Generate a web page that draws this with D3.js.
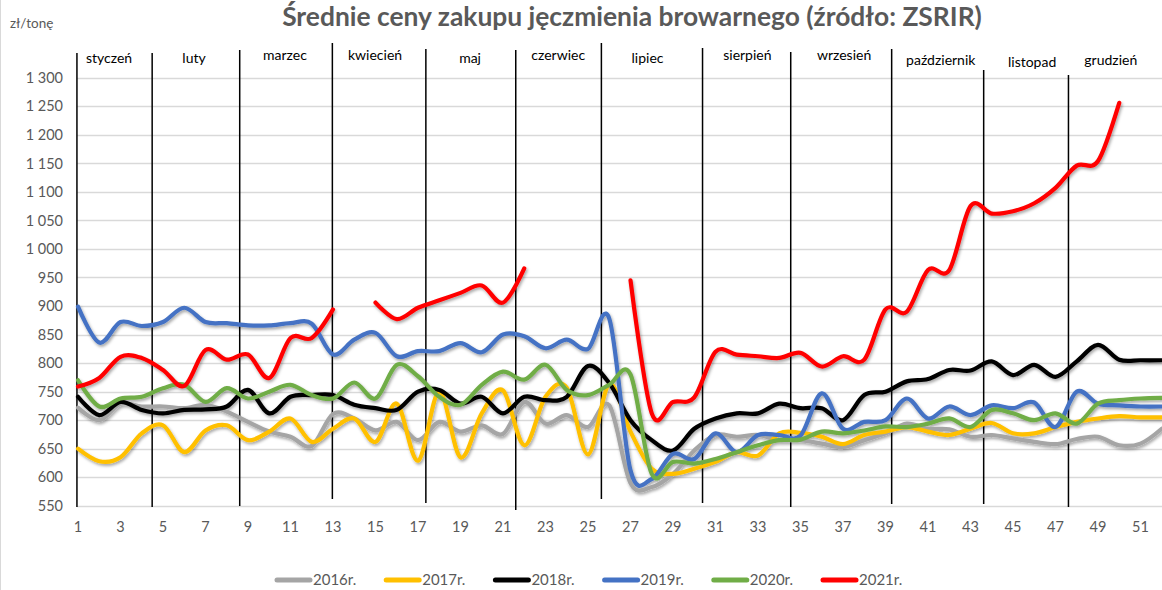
<!DOCTYPE html>
<html>
<head>
<meta charset="utf-8">
<script src="https://cdn.jsdelivr.net/npm/d3@7"></script>
<style>
  html, body { margin: 0; padding: 0; background: #fff; }
  svg { display: block; font-family: Lato, "Open Sans", sans-serif; }
</style>
</head>
<body>
<svg id="chart" width="1162" height="590"></svg>
<script>
// ---------------- DATA ----------------
const titleText = "Średnie ceny zakupu jęczmienia browarnego  (źródło: ZSRIR)";
const unitLabel = "zł/tonę";
const weeks = [1,2,3,4,5,6,7,8,9,10,11,12,13,14,15,16,17,18,19,20,21,22,23,24,25,26,
               27,28,29,30,31,32,33,34,35,36,37,38,39,40,41,42,43,44,45,46,47,48,49,50,51,52];
const xTickLabels = [1,3,5,7,9,11,13,15,17,19,21,23,25,27,29,31,33,35,37,39,41,43,45,47,49,51];
const yTicks = [550,600,650,700,750,800,850,900,950,1000,1050,1100,1150,1200,1250,1300];
const seriesNames = ["2016r.","2017r.","2018r.","2019r.","2020r.","2021r."];

const y2016 = [722,700,729,724,724,721,727,715,697,680,671,655,711,703,682,697,665,697,680,691,676,732,694,709,688,726,
               590,583,606,647,674,671,674,665,665,659,653,665,677,694,685,684,671,674,668,662,658,667,671,656,659,685];
const y2017 = [650,628,635,677,691,644,682,691,665,680,703,662,685,703,662,729,629,750,635,712,752,656,741,757,640,763,
               680,615,606,615,627,644,638,677,678,671,658,674,680,688,680,674,685,695,677,677,688,697,703,707,705,705];
const y2018 = [741,709,732,718,712,718,719,724,753,712,741,744,744,727,721,718,750,753,729,741,712,741,735,741,795,765,
               700,665,647,685,703,712,712,729,721,721,700,744,750,768,772,788,787,803,779,797,776,803,832,806,805,805];
const y2019 = [899,836,872,865,872,897,872,870,866,866,870,869,815,841,853,812,821,821,835,819,850,847,826,841,825,878,
               612,597,641,632,677,644,674,674,673,747,685,697,700,738,703,724,709,726,721,731,688,750,729,726,724,724];
const y2020 = [770,724,738,741,756,762,732,756,738,750,762,744,738,766,738,797,777,741,727,762,785,771,797,753,744,762,
               780,606,627,624,632,644,656,665,666,680,677,682,689,688,694,703,688,718,712,700,712,694,729,735,738,739];
const y2021 = [759,774,811,809,788,760,823,806,815,774,844,844,894,null,906,877,897,910,923,936,906,966,null,null,null,null,
               945,712,732,740,820,815,812,809,818,794,812,806,894,890,963,963,1075,1062,1066,1080,1107,1146,1154,1256,null,null];

const monthNames = ["styczeń","luty","marzec","kwiecień","maj","czerwiec","lipiec","sierpień","wrzesień","październik","listopad","grudzień"];
// month label centres and separators, in week units
const monthCenters = [2.46,6.46,10.74,14.98,19.45,23.6,27.8,32.5,37.05,41.6,45.9,49.6];
const monthBounds  = [0.95,4.49,8.61,12.97,17.37,21.60,25.63,30.39,34.54,39.29,43.62,47.61];

// ---------------- LAYOUT / STYLE ----------------
const colors = ["#A5A5A5","#FFC000","#000000","#4472C4","#70AD47","#FF0000"];
const series = [y2016,y2017,y2018,y2019,y2020,y2021];
const labelYs = [58,58,55,55,58,55,58,55,55,60,62,60];
const sepTops = [53,53,50,43,49,50,43,48,52,49,70,75];
const sepBottoms = [507,507,506,499,503,510,499,503,507,504,504,507];

const svg = d3.select("#chart");
const x = d3.scaleLinear().domain([1,52]).range([78,1161.75]);
const y = d3.scaleLinear().domain([550,1300]).range([505.8,77.7]);
const fmt = d3.formatLocale({decimal:",", thousands:"\u00a0", grouping:[3], currency:["","zł"]}).format(",d");

// chart border (left edge visible)
svg.append("line").attr("x1",0.5).attr("x2",0.5).attr("y1",0).attr("y2",590)
   .attr("stroke","#d9d9d9").attr("stroke-width",1);

// shadow filter
const defs = svg.append("defs");
const f = defs.append("filter").attr("id","sh").attr("x","-5%").attr("y","-20%").attr("width","110%").attr("height","140%");
f.append("feDropShadow").attr("dx",1.2).attr("dy",2).attr("stdDeviation",1.4)
 .attr("flood-color","#000").attr("flood-opacity",0.35);

// title
const title = svg.append("text").attr("x",632).attr("y",26).attr("text-anchor","middle")
  .attr("font-weight","bold").attr("fill","#595959").attr("font-size",22).text(titleText);
const tl = title.node().getComputedTextLength();
title.attr("font-size", 22*700/tl);

svg.append("text").attr("x",10).attr("y",28).attr("fill","#595959").attr("font-size",13.5).text(unitLabel);

// gridlines
svg.append("g").selectAll("line").data(yTicks).join("line")
  .attr("x1",77).attr("x2",1162).attr("y1",d=>Math.round(y(d))+0.5).attr("y2",d=>Math.round(y(d))+0.5)
  .attr("stroke","#d9d9d9").attr("stroke-width",1.3);

// y axis labels
svg.append("g").selectAll("text").data(yTicks).join("text")
  .attr("x",63).attr("y",d=>y(d)).attr("dy","0.36em").attr("text-anchor","end")
  .attr("fill","#595959").attr("font-size",14.5).text(d=>fmt(d));

// x axis labels
svg.append("g").selectAll("text").data(xTickLabels).join("text")
  .attr("x",d=>x(d)).attr("y",532).attr("text-anchor","middle")
  .attr("fill","#595959").attr("font-size",14.5).text(d=>d);

// month separators
svg.append("g").selectAll("line").data(monthBounds).join("line")
  .attr("x1",d=>x(d)).attr("x2",d=>x(d))
  .attr("y1",(d,i)=>sepTops[i]).attr("y2",(d,i)=>sepBottoms[i])
  .attr("stroke","#000").attr("stroke-width",1.5);

// month labels
svg.append("g").selectAll("text").data(monthNames).join("text")
  .attr("x",(d,i)=>x(monthCenters[i])).attr("y",(d,i)=>labelYs[i]).attr("dy","0.35em")
  .attr("text-anchor","middle").attr("fill","#000").attr("font-size",14).text(d=>d);

// lines
const line = d3.line().defined(d=>d.v!=null).x(d=>x(d.w)).y(d=>y(d.v)).curve(d3.curveCardinal.tension(0));
svg.append("g").attr("filter","url(#sh)").selectAll("path").data(series).join("path")
  .attr("d",s=>line(weeks.map((w,i)=>({w:w,v:s[i]}))))
  .attr("fill","none").attr("stroke",(d,i)=>colors[i]).attr("stroke-width",4.2)
  .attr("stroke-linejoin","round").attr("stroke-linecap","round");

// legend
const lg = svg.append("g").selectAll("g").data(seriesNames).join("g")
  .attr("transform",(d,i)=>`translate(${275+i*109.2},580)`);
lg.append("line").attr("x1",2).attr("x2",35).attr("y1",0).attr("y2",0)
  .attr("stroke",(d,i)=>colors[i]).attr("stroke-width",5).attr("stroke-linecap","round");
lg.append("text").attr("x",38).attr("y",0).attr("dy","0.36em").attr("fill","#595959")
  .attr("font-size",15).text(d=>d);
</script>
</body>
</html>
